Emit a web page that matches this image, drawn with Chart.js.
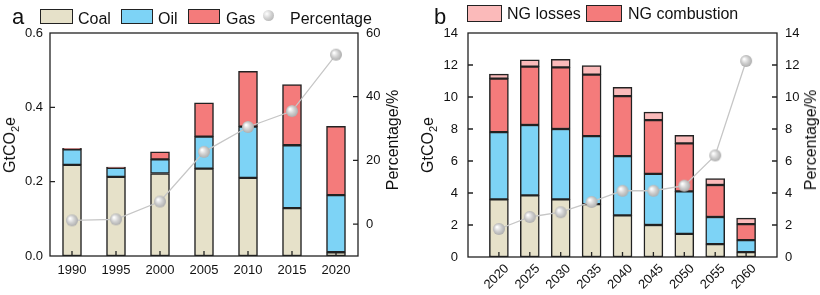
<!DOCTYPE html>
<html>
<head>
<meta charset="utf-8">
<script src="https://cdn.jsdelivr.net/npm/chart.js@4.4.1/dist/chart.umd.min.js"></script>
<style>
  body { margin: 0; background: #fff; font-family: "Liberation Sans", Arial, sans-serif; color: #111; }
  #wrap { position: relative; width: 820px; height: 295px; overflow: hidden; }
  canvas { position: absolute; top: 0; }
  .t { position: absolute; white-space: nowrap; font-size: 16px; line-height: 16px; }
  .box { position: absolute; border: 1.5px solid #222; box-sizing: border-box; }
  .dot { position: absolute; width: 11px; height: 11px; border-radius: 50%;
         background: radial-gradient(circle at 35% 35%, #fff 0%, #d2d2d2 45%, #a6a6a6 100%); }
  .rot { position: absolute; white-space: nowrap; font-size: 16px; line-height: 16px;
         transform: translate(-50%, -50%) rotate(-90deg); }
  .panel { position: absolute; font-size: 22px; line-height: 22px; }
</style>
</head>
<body>
<div id="wrap">
  <canvas id="chartA" width="410" height="295" style="left:0"></canvas>
  <canvas id="chartB" width="410" height="295" style="left:410px"></canvas>

  <!-- panel a legend -->
  <div class="panel" style="left:12px;top:6px">a</div>
  <div class="box" style="left:40px;top:9px;width:33px;height:15px;background:#e6e1c9"></div>
  <div class="t" style="left:78px;top:11px">Coal</div>
  <div class="box" style="left:121px;top:9px;width:32px;height:15px;background:#7dd3f6"></div>
  <div class="t" style="left:158px;top:11px">Oil</div>
  <div class="box" style="left:188px;top:9px;width:32px;height:15px;background:#f47b7b"></div>
  <div class="t" style="left:226px;top:11px">Gas</div>
  <div class="dot" style="left:263px;top:10px"></div>
  <div class="t" style="left:290px;top:11px">Percentage</div>

  <!-- panel b legend -->
  <div class="panel" style="left:434px;top:6px">b</div>
  <div class="box" style="left:467px;top:5px;width:35px;height:17px;background:#fbbaba"></div>
  <div class="t" style="left:507px;top:6px">NG losses</div>
  <div class="box" style="left:586px;top:5px;width:36px;height:17px;background:#f47b7b"></div>
  <div class="t" style="left:628px;top:6px">NG combustion</div>

  <!-- axis titles -->
  <div class="rot" style="left:10px;top:145px">GtCO<sub style="font-size:11px;line-height:0">2</sub>e</div>
  <div class="rot" style="left:393px;top:140px">Percentage/%</div>
  <div class="rot" style="left:428px;top:145px">GtCO<sub style="font-size:11px;line-height:0">2</sub>e</div>
  <div class="rot" style="left:811px;top:140px">Percentage/%</div>
</div>

<script>
// panel a: emissions by fuel (GtCO2e) and percentage
const yearsA = ['1990', '1995', '2000', '2005', '2010', '2015', '2020'];
const coalA = [0.245, 0.213, 0.222, 0.235, 0.210, 0.129, 0.010];
const oilA  = [0.042, 0.024, 0.038, 0.086, 0.138, 0.169, 0.154];
const gasA  = [0.003, 0.002, 0.020, 0.091, 0.149, 0.163, 0.185];
const pctA  = [1.2, 1.5, 7.1, 22.7, 30.5, 35.5, 53.2];
const leftTicksA  = [0, 0.2, 0.4, 0.6];
const rightTicksA = [0, 20, 40, 60];

// panel b: projections
const yearsB = ['2020', '2025', '2030', '2035', '2040', '2045', '2050', '2055', '2060'];
const coalB = [3.6, 3.85, 3.6, 3.3, 2.6, 2.0, 1.45, 0.8, 0.3];
const oilB  = [4.2, 4.4, 4.4, 4.25, 3.7, 3.2, 2.65, 1.7, 0.75];
const combB = [3.35, 3.65, 3.85, 3.85, 3.75, 3.35, 3.0, 2.0, 1.0];
const lossB = [0.28, 0.42, 0.5, 0.57, 0.55, 0.5, 0.5, 0.4, 0.38];
const pctB  = [1.75, 2.5, 2.8, 3.44, 4.14, 4.14, 4.46, 6.35, 12.25];
const ticksB = [0, 2, 4, 6, 8, 10, 12, 14];

const COAL = '#e6e1c9', OIL = '#7dd3f6', GAS = '#f47b7b', LOSS = '#fbbaba';
const tickFont = { family: '"Liberation Sans", Arial, sans-serif', size: 13 };

// grey shaded ball used as the point marker
function sphere(r) {
    const c = document.createElement('canvas');
    c.width = c.height = 2 * r + 2;
    const g = c.getContext('2d');
    const grd = g.createRadialGradient(r - 1, r - 1, 0.5, r + 1, r + 1, r + 1);
    grd.addColorStop(0, '#ffffff');
    grd.addColorStop(0.45, '#d2d2d2');
    grd.addColorStop(1, '#a4a4a4');
    g.fillStyle = grd;
    g.beginPath();
    g.arc(r + 1, r + 1, r, 0, Math.PI * 2);
    g.fill();
    return c;
}
const ball = sphere(6);

// box frame + inward tick marks
const framePlugin = {
    id: 'frame',
    afterDatasetsDraw(chart) {
        const { ctx, chartArea: a, scales } = chart;
        const tl = 5;
        ctx.save();
        ctx.strokeStyle = '#222';
        ctx.lineWidth = 1.3;
        ctx.beginPath();
        chart.data.labels.forEach((lab, i) => {
            if (lab === '') return;
            const x = scales.x.getPixelForTick(i);
            ctx.moveTo(x, a.bottom);
            ctx.lineTo(x, a.bottom - tl);
        });
        scales.y.ticks.forEach((t, i) => {
            const p = scales.y.getPixelForTick(i);
            if (p > a.top + 1 && p < a.bottom - 1) { ctx.moveTo(a.left, p); ctx.lineTo(a.left + tl, p); }
        });
        scales.y1.ticks.forEach((t, i) => {
            const p = scales.y1.getPixelForTick(i);
            if (p > a.top + 1 && p < a.bottom - 1) { ctx.moveTo(a.right, p); ctx.lineTo(a.right - tl, p); }
        });
        ctx.stroke();
        ctx.strokeRect(a.left, a.top, a.right - a.left, a.bottom - a.top);
        ctx.restore();
    }
};

function barSet(label, data, color) {
    return {
        type: 'bar', label: label, data: data, backgroundColor: color,
        borderColor: '#222', borderWidth: 1.5, borderSkipped: false,
        barThickness: 19, yAxisID: 'y', order: 1
    };
}

function pctSet(data) {
    return {
        type: 'line', label: 'Percentage', data: data, yAxisID: 'y1', order: 0,
        borderColor: '#c6c6c6', borderWidth: 1.3, pointStyle: ball, pointRadius: 6,
        tension: 0
    };
}

function makeChart(canvas, labels, datasets, o) {
    return new Chart(canvas, {
        data: { labels: labels, datasets: datasets },
        options: {
            responsive: false,
            animation: false,
            layout: { padding: { top: 33, left: 0, right: 0, bottom: 0 } },
            plugins: { legend: { display: false }, tooltip: { enabled: false } },
            scales: {
                x: {
                    stacked: true, offset: o.offset,
                    grid: { display: false, drawTicks: false }, border: { display: false },
                    ticks: { font: tickFont, color: '#111', padding: o.xPad, labelOffset: o.xShift,
                             autoSkip: false, minRotation: o.rot, maxRotation: o.rot },
                    afterFit: s => { s.height = o.xH; }
                },
                y: {
                    stacked: true, min: o.yMin, max: o.yMax,
                    grid: { display: false, drawTicks: false }, border: { display: false },
                    ticks: { font: tickFont, color: '#111', padding: o.yPad, callback: o.yFmt },
                    afterBuildTicks: s => { s.ticks = o.yTicks.map(v => ({ value: v })); },
                    afterFit: s => { s.width = o.yW; }
                },
                y1: {
                    position: 'right', min: o.y1Min, max: o.y1Max,
                    grid: { display: false, drawTicks: false }, border: { display: false },
                    ticks: { font: tickFont, color: '#111', padding: 8 },
                    afterBuildTicks: s => { s.ticks = o.y1Ticks.map(v => ({ value: v })); },
                    afterFit: s => { s.width = o.y1W; }
                }
            }
        },
        plugins: [framePlugin]
    });
}

makeChart(document.getElementById('chartA'), yearsA, [
    barSet('Coal', coalA, COAL),
    barSet('Oil', oilA, OIL),
    barSet('Gas', gasA, GAS),
    pctSet(pctA)
], {
    offset: true, rot: 0, xPad: 7, xH: 39, xShift: 0,
    yMin: 0, yMax: 0.6, yTicks: leftTicksA, yFmt: v => v.toFixed(1), yW: 50, yPad: 7,
    y1Min: -10, y1Max: 60, y1Ticks: rightTicksA, y1W: 52
});

// empty slots at both ends give the wider side margins of panel b
const pad = arr => [null].concat(arr, [null]);
makeChart(document.getElementById('chartB'), [''].concat(yearsB, ['']), [
    barSet('Coal', pad(coalB), COAL),
    barSet('Oil', pad(oilB), OIL),
    barSet('NG combustion', pad(combB), GAS),
    barSet('NG losses', pad(lossB), LOSS),
    pctSet(pad(pctB))
], {
    offset: false, rot: 45, xPad: 4, xH: 38, xShift: 8,
    yMin: 0, yMax: 14, yTicks: ticksB, yFmt: v => v, yW: 58, yPad: 10,
    y1Min: 0, y1Max: 14, y1Ticks: ticksB, y1W: 43
});
</script>
</body>
</html>
